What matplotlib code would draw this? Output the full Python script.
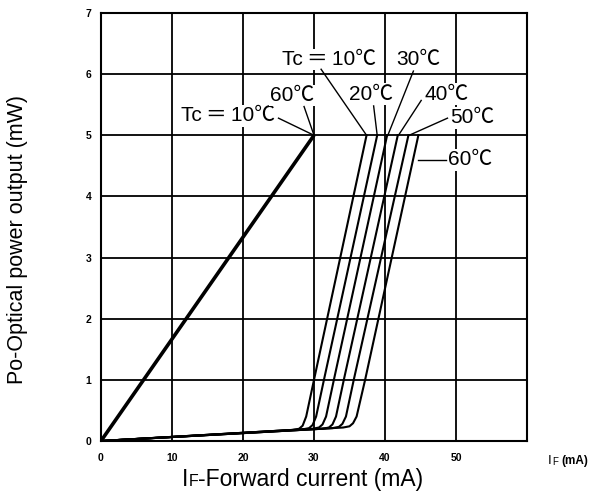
import matplotlib
matplotlib.use("Agg")
import matplotlib.pyplot as plt

plt.rcParams['font.family'] = ['Liberation Sans', 'Noto Sans CJK JP', 'DejaVu Sans']

# straight line below threshold region (10C and 60C coincide)
led_current = [0, 30]
led_power = [0, 5.0]

# laser curves, one per case temperature
temps = [10, 20, 30, 40, 50, 60]
laser_current = {
    10: [0, 27.0, 27.9, 28.4, 28.9, 30.0, 37.4],
    20: [0, 28.4, 29.3, 29.8, 30.3, 31.4, 38.9],
    30: [0, 29.8, 30.7, 31.2, 31.7, 32.8, 40.3],
    40: [0, 31.2, 32.1, 32.6, 33.1, 34.2, 41.8],
    50: [0, 32.6, 33.5, 34.0, 34.5, 35.6, 43.3],
    60: [0, 34.1, 35.0, 35.5, 36.0, 37.2, 44.7],
}
laser_power = {
    10: [0, 0.18, 0.20, 0.25, 0.40, 1.0, 5.0],
    20: [0, 0.19, 0.21, 0.26, 0.40, 1.0, 5.0],
    30: [0, 0.20, 0.22, 0.27, 0.40, 1.0, 5.0],
    40: [0, 0.20, 0.22, 0.27, 0.40, 1.0, 5.0],
    50: [0, 0.21, 0.23, 0.28, 0.40, 1.0, 5.0],
    60: [0, 0.22, 0.24, 0.29, 0.40, 1.0, 5.0],
}

xticks = [0, 10, 20, 30, 40, 50]
yticks = [0, 1, 2, 3, 4, 5, 6, 7]

W, H = 593, 498
fig = plt.figure(figsize=(W / 100, H / 100), dpi=100)
ax = fig.add_axes([0.1703, 0.1145, 0.7184, 0.8594])
ax.set_xlim(0, 60)
ax.set_ylim(0, 7)

for x in range(10, 60, 10):
    ax.axvline(x, color='black', lw=1.3, zorder=1)
for y in range(1, 7):
    ax.axhline(y, color='black', lw=1.3, zorder=1)
for s in ax.spines.values():
    s.set_linewidth(1.5)

ax.plot(led_current, led_power, color='black', lw=2.6, zorder=3, solid_capstyle='butt')
for t in temps:
    ax.plot(laser_current[t], laser_power[t], color='black', lw=1.5, zorder=3)

ax.set_xticks(xticks)
ax.set_yticks(yticks)
ax.tick_params(length=0, labelsize=7.5)
ax.tick_params(axis='x', pad=9)
ax.tick_params(axis='y', pad=7)
for lbl in ax.get_xticklabels() + ax.get_yticklabels():
    lbl.set_fontweight('bold')

# unit note at the right end of the x axis
fig.text(548 / W, 1 - 461 / H, 'I', fontsize=9.5, ha='left', va='center')
fig.text(552 / W, 1 - 462 / H, 'F', fontsize=7, ha='left', va='center')
fig.text(561 / W, 1 - 461 / H, '(mA)', fontsize=8.5, fontweight='bold', ha='left', va='center')

fig.text(18 / W, 1 - 240 / H, 'Po-Optical power output (mW)', rotation=90, fontsize=15.5,
         ha='center', va='center')
fig.text(182 / W, 1 - 479 / H, 'I', fontsize=16.5, ha='left', va='center')
fig.text(189 / W, 1 - 481 / H, 'F', fontsize=11.5, ha='left', va='center')
fig.text(198 / W, 1 - 479 / H, '-Forward current (mA)', fontsize=16.5, ha='left', va='center')

box = dict(facecolor='white', edgecolor='none', pad=1.0)
lab = dict(fontsize=15, ha='left', va='center', zorder=4, bbox=box)

def note(s, xy, line):
    ax.text(xy[0], xy[1], s, **lab)
    ax.plot([line[0], line[2]], [line[1], line[3]], color='black', lw=1.0, zorder=5)

tc10 = 'Tc\u2009\uff1d\u200910\u2103'
note(tc10, (11.2, 5.32), (25.0, 5.28, 30.0, 5.0))
note('60\u2103', (23.8, 5.65), (28.6, 5.47, 30.0, 5.0))
note(tc10, (25.5, 6.24), (31.0, 6.08, 37.4, 5.0))
note('20\u2103', (35.0, 5.67), (38.4, 5.48, 38.9, 5.0))
note('30\u2103', (41.6, 6.24), (44.0, 6.05, 40.4, 5.0))
note('40\u2103', (45.5, 5.67), (45.1, 5.57, 41.9, 5.0))
note('50\u2103', (49.2, 5.29), (48.8, 5.28, 43.4, 5.0))
note('60\u2103', (48.9, 4.6), (44.6, 4.6, 48.6, 4.6))

fig.savefig('out.png', dpi=100)
